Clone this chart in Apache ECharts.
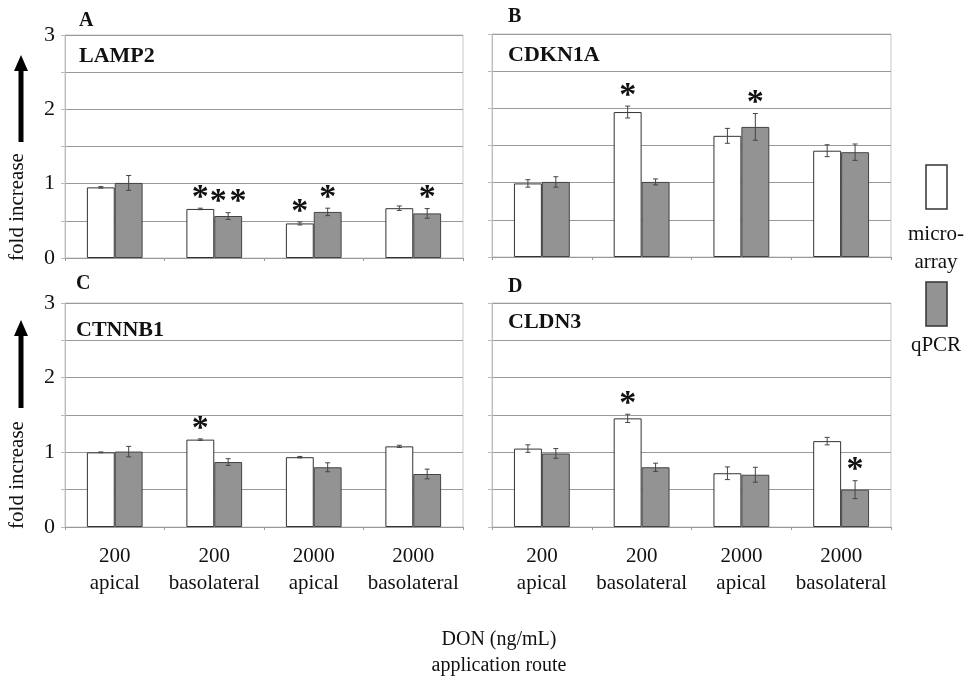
<!DOCTYPE html>
<html>
<head>
<meta charset="utf-8">
<script src="https://cdn.jsdelivr.net/npm/echarts@6/dist/echarts.min.js"></script>
<style>
html,body{margin:0;padding:0;background:#fff;}
#chart{width:972px;height:684px;}
</style>
</head>
<body>
<div id="chart"></div>
<script>
// ---- data ----
const categories = ['200\napical', '200\nbasolateral', '2000\napical', '2000\nbasolateral'];
const yTicks = [0, 1, 2, 3];

const panelLetters = ['A', 'B', 'C', 'D'];
const geneNames = ['LAMP2', 'CDKN1A', 'CTNNB1', 'CLDN3'];

// LAMP2
const lampMicro = [0.95, 0.66, 0.465, 0.67];
const lampMicroErr = [0.01, 0.01, 0.02, 0.03];
const lampQpcr = [1.01, 0.565, 0.62, 0.60];
const lampQpcrErr = [0.10, 0.045, 0.05, 0.065];
const lampMicroSig = ['', '*', '*', ''];
const lampQpcrSig = ['', '*\u200A*', '*', '*'];

// CDKN1A
const cdkMicro = [0.99, 1.95, 1.63, 1.43];
const cdkMicroErr = [0.05, 0.08, 0.10, 0.08];
const cdkQpcr = [1.01, 1.01, 1.75, 1.41];
const cdkQpcrErr = [0.07, 0.04, 0.18, 0.11];
const cdkMicroSig = ['', '*', '', ''];
const cdkQpcrSig = ['', '', '*', ''];

// CTNNB1
const ctnMicro = [1.00, 1.17, 0.935, 1.08];
const ctnMicroErr = [0.005, 0.01, 0.01, 0.015];
const ctnQpcr = [1.01, 0.87, 0.80, 0.71];
const ctnQpcrErr = [0.07, 0.045, 0.06, 0.065];
const ctnMicroSig = ['', '*', '', ''];
const ctnQpcrSig = ['', '', '', ''];

// CLDN3
const cldMicro = [1.05, 1.455, 0.72, 1.15];
const cldMicroErr = [0.05, 0.055, 0.085, 0.05];
const cldQpcr = [0.985, 0.80, 0.70, 0.50];
const cldQpcrErr = [0.065, 0.055, 0.10, 0.12];
const cldMicroSig = ['', '*', '', ''];
const cldQpcrSig = ['', '', '', '*'];

const legendNames = ['micro-\narray', 'qPCR'];
const xTitle = 'DON (ng/mL)\napplication route';
const yTitle = 'fold increase';

// ---- layout / style ----
const FONT = "'Liberation Serif', 'Times New Roman', serif";
const panels = [
  {micro: lampMicro, microErr: lampMicroErr, qpcr: lampQpcr, qpcrErr: lampQpcrErr, ms: lampMicroSig, qs: lampQpcrSig},
  {micro: cdkMicro, microErr: cdkMicroErr, qpcr: cdkQpcr, qpcrErr: cdkQpcrErr, ms: cdkMicroSig, qs: cdkQpcrSig},
  {micro: ctnMicro, microErr: ctnMicroErr, qpcr: ctnQpcr, qpcrErr: ctnQpcrErr, ms: ctnMicroSig, qs: ctnQpcrSig},
  {micro: cldMicro, microErr: cldMicroErr, qpcr: cldQpcr, qpcrErr: cldQpcrErr, ms: cldMicroSig, qs: cldQpcrSig}
];
const grids = [
  {left: 65, top: 35, width: 398, height: 223},
  {left: 492, top: 34, width: 399, height: 223},
  {left: 65, top: 303, width: 398, height: 224},
  {left: 492, top: 303, width: 399, height: 224}
];
const letterPos = [[79, 22], [508, 18], [76, 285], [508, 288]];
const genePos = [[79, 57], [508, 56], [76, 331], [508, 323]];

const MICRO_COLOR = '#ffffff';
const QPCR_COLOR = '#939393';

function errRenderer(sigs, side) {
  return function (params, api) {
    const i = api.value(0), v = api.value(1), e = api.value(2);
    const cw = api.size([1, 0])[0];
    const off = side * cw * 0.14;
    const t = api.coord([i, v + e]);
    const b = api.coord([i, v - e]);
    const x = t[0] + off;
    const cap = 2.5;
    const st = {stroke: '#444', lineWidth: 1};
    const children = [
      {type: 'line', shape: {x1: x, y1: t[1], x2: x, y2: b[1]}, style: st},
      {type: 'line', shape: {x1: x - cap, y1: t[1], x2: x + cap, y2: t[1]}, style: st},
      {type: 'line', shape: {x1: x - cap, y1: b[1], x2: x + cap, y2: b[1]}, style: st}
    ];
    const s = sigs[params.dataIndex];
    if (s) {
      children.push({
        type: 'text',
        style: {
          text: s, x: x, y: t[1] - 10, align: 'center', verticalAlign: 'middle',
          font: 'bold 34px ' + FONT, fill: '#111'
        }
      });
    }
    return {type: 'group', children: children};
  };
}

const option = {
  animation: false,
  backgroundColor: '#fff',
  grid: grids.map(g => Object.assign({show: true, borderColor: '#c8c8c8', borderWidth: 1, backgroundColor: 'transparent'}, g)),
  xAxis: grids.map((g, k) => ({
    type: 'category', gridIndex: k, data: categories,
    axisLine: {show: true, lineStyle: {color: '#999', width: 1}},
    axisTick: {show: true, length: 3, lineStyle: {color: '#999'}},
    axisLabel: {
      show: k >= 2, interval: 0, margin: 16,
      fontFamily: FONT, fontSize: 21, color: '#111', lineHeight: 27
    },
    splitLine: {show: false}
  })),
  yAxis: grids.map((g, k) => ({
    type: 'value', gridIndex: k, min: 0, max: 3, interval: 0.5,
    axisLine: {show: true, lineStyle: {color: '#bbb'}},
    axisTick: {show: true, length: 4, lineStyle: {color: '#bbb'}},
    axisLabel: {
      show: k % 2 === 0, margin: 10, fontFamily: FONT, fontSize: 22, color: '#111',
      formatter: v => (yTicks.indexOf(v) >= 0 ? String(v) : '')
    },
    splitLine: {show: true, lineStyle: {color: '#9a9a9a', width: 1}}
  })),
  series: []
};

panels.forEach((p, k) => {
  option.series.push({
    type: 'bar', name: 'microarray', xAxisIndex: k, yAxisIndex: k, data: p.micro,
    barCategoryGap: '44%', barGap: '0%',
    itemStyle: {color: MICRO_COLOR, borderColor: '#333', borderWidth: 1}
  });
  option.series.push({
    type: 'bar', name: 'qPCR', xAxisIndex: k, yAxisIndex: k, data: p.qpcr,
    barCategoryGap: '44%', barGap: '0%',
    itemStyle: {color: QPCR_COLOR, borderColor: '#444', borderWidth: 1}
  });
  option.series.push({
    type: 'custom', xAxisIndex: k, yAxisIndex: k, z: 10,
    data: p.micro.map((v, i) => [i, v, p.microErr[i]]),
    encode: {x: 0, y: 1},
    renderItem: errRenderer(p.ms, -1)
  });
  option.series.push({
    type: 'custom', xAxisIndex: k, yAxisIndex: k, z: 10,
    data: p.qpcr.map((v, i) => [i, v, p.qpcrErr[i]]),
    encode: {x: 0, y: 1},
    renderItem: errRenderer(p.qs, 1)
  });
});

const graphics = [];
panelLetters.forEach((L, k) => {
  graphics.push({type: 'text', left: letterPos[k][0], top: letterPos[k][1] - 11,
    style: {text: L, font: 'bold 20px ' + FONT, fill: '#111'}});
  graphics.push({type: 'text', left: genePos[k][0], top: genePos[k][1] - 12,
    style: {text: geneNames[k], font: 'bold 22px ' + FONT, fill: '#111'}});
});
// y titles with arrows
[[55, 142, 207], [320, 408, 475]].forEach(a => {
  const tip = a[0], base = a[1];
  graphics.push({type: 'polygon', shape: {points: [
    [21, tip], [28, tip + 16], [23.5, tip + 16], [23.5, base], [18.5, base], [18.5, tip + 16], [14, tip + 16]
  ]}, style: {fill: '#000'}});
  graphics.push({type: 'text', x: 17, y: a[2], rotation: Math.PI / 2,
    style: {text: yTitle, font: '21px ' + FONT, fill: '#111', align: 'center', verticalAlign: 'middle'}});
});
// legend
graphics.push({type: 'rect', shape: {x: 926, y: 165, width: 21, height: 44},
  style: {fill: MICRO_COLOR, stroke: '#333', lineWidth: 1.5}});
graphics.push({type: 'text', x: 936, y: 248,
  style: {text: legendNames[0], font: '21px ' + FONT, fill: '#111', align: 'center', verticalAlign: 'middle', lineHeight: 28}});
graphics.push({type: 'rect', shape: {x: 926, y: 282, width: 21, height: 44},
  style: {fill: QPCR_COLOR, stroke: '#333', lineWidth: 1.5}});
graphics.push({type: 'text', x: 936, y: 345,
  style: {text: legendNames[1], font: '21px ' + FONT, fill: '#111', align: 'center', verticalAlign: 'middle'}});
// x title
graphics.push({type: 'text', x: 499, y: 653,
  style: {text: xTitle, font: '20px ' + FONT, fill: '#111', align: 'center', verticalAlign: 'middle', lineHeight: 26}});
option.graphic = graphics;

const chart = echarts.init(document.getElementById('chart'), null, {renderer: 'canvas'});
chart.setOption(option);
</script>
</body>
</html>
